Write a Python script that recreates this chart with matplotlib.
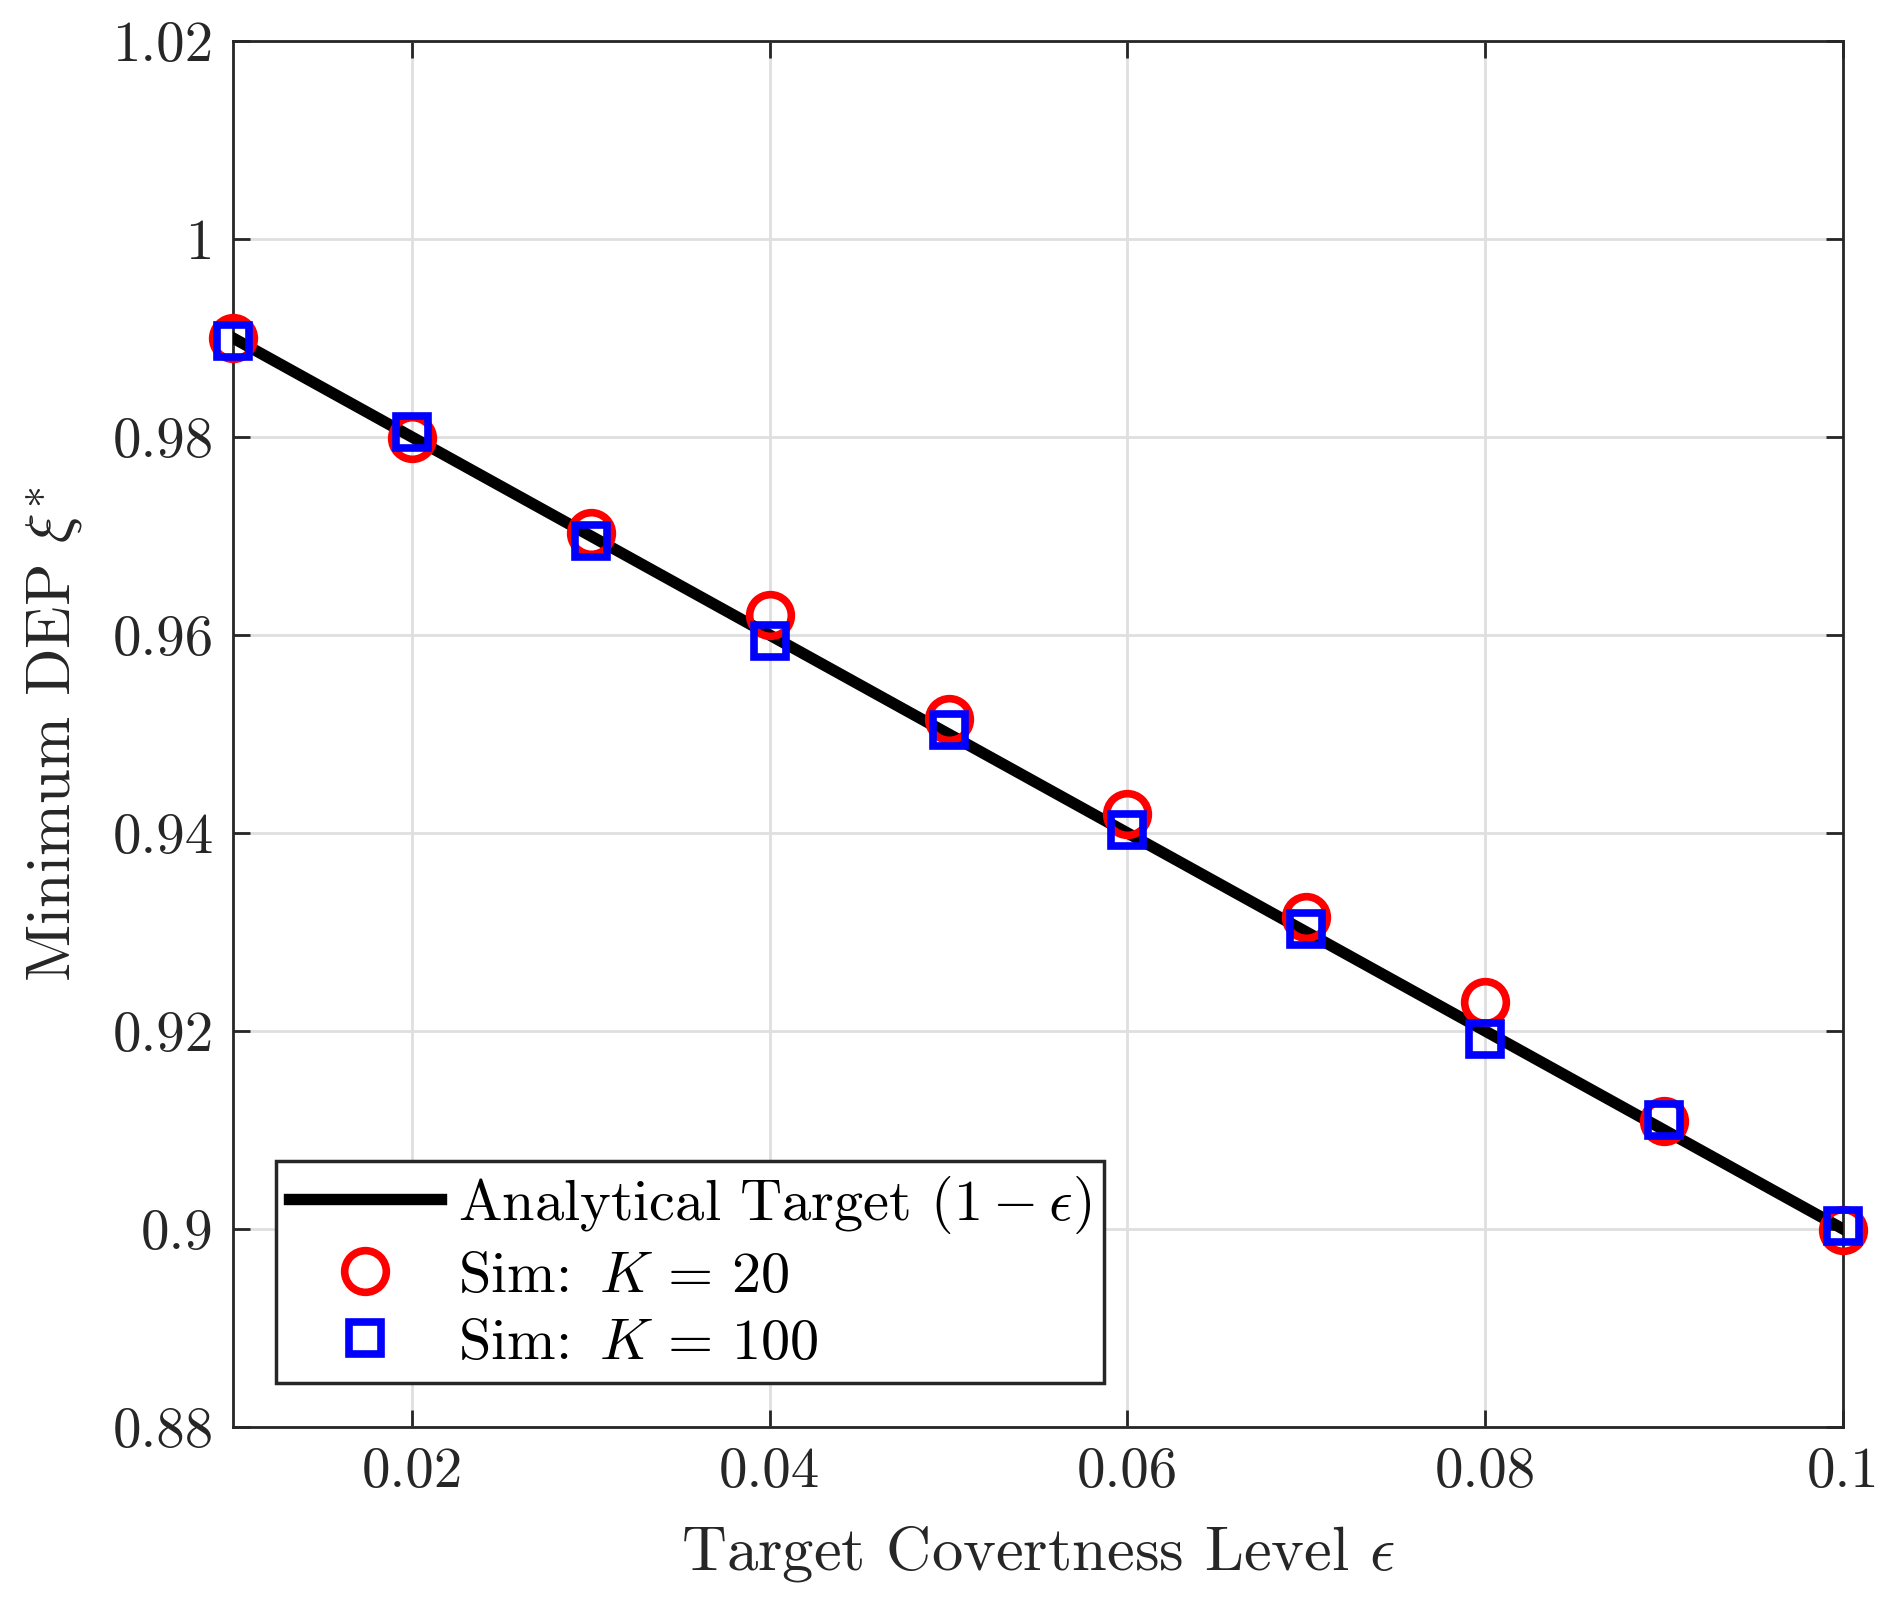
import numpy as np
import matplotlib
matplotlib.use("Agg")
import matplotlib.pyplot as plt

# target covertness level epsilon
eps = [0.01, 0.02, 0.03, 0.04, 0.05, 0.06, 0.07, 0.08, 0.09, 0.10]
# analytical target (1 - eps)
analytical = [0.99, 0.98, 0.97, 0.96, 0.95, 0.94, 0.93, 0.92, 0.91, 0.90]
# simulated minimum DEP
sim_k20 = [0.9900, 0.9799, 0.9703, 0.9620, 0.9515, 0.9419, 0.9315, 0.9229, 0.9109, 0.8999]
sim_k100 = [0.9897, 0.9805, 0.9695, 0.9594, 0.9504, 0.9403, 0.9303, 0.9192, 0.9110, 0.9003]

xticks = [0.02, 0.04, 0.06, 0.08, 0.1]
xtick_labels = ["0.02", "0.04", "0.06", "0.08", "0.1"]
yticks = [0.88, 0.9, 0.92, 0.94, 0.96, 0.98, 1.0, 1.02]
ytick_labels = ["0.88", "0.9", "0.92", "0.94", "0.96", "0.98", "1", "1.02"]

plt.rcParams.update({
    "font.family": "serif",
    "font.serif": ["cmr10", "DejaVu Serif"],
    "mathtext.fontset": "cm",
    "axes.unicode_minus": False,
    "axes.formatter.use_mathtext": True,
})

ink = "#262626"

fig = plt.figure(figsize=(18.96, 15.97), dpi=100)
ax = fig.add_axes([233 / 1896, 1 - 1427 / 1597, (1843 - 233) / 1896, (1427 - 41) / 1597])

ax.plot(eps, analytical, color="black", linewidth=8.2, label=r"Analytical Target $(1-\epsilon)$", zorder=3)
ax.plot(eps, sim_k20, linestyle="none", marker="o", markersize=30, markerfacecolor="none",
        markeredgecolor="#ff0000", markeredgewidth=5.5, label=r"Sim: $\,K\,=\,20$", zorder=4, clip_on=False)
ax.plot(eps, sim_k100, linestyle="none", marker="s", markersize=23, markerfacecolor="none",
        markeredgecolor="#0000ff", markeredgewidth=5.5, label=r"Sim: $\,K\,=\,100$", zorder=5, clip_on=False)

ax.set_xlim(0.01, 0.1)
ax.set_ylim(0.88, 1.02)
ax.set_xticks(xticks)
ax.set_xticklabels(xtick_labels)
ax.set_yticks(yticks)
ax.set_yticklabels(ytick_labels)

ax.grid(True, color="#dfdfdf", linewidth=2.0)
ax.set_axisbelow(True)
ax.tick_params(direction="in", length=12, width=2, colors=ink, labelsize=41,
               top=True, right=True, pad=14)
for sp in ax.spines.values():
    sp.set_color(ink)
    sp.set_linewidth(2)

ax.set_xlabel(r"Target Covertness Level $\epsilon$", fontsize=45, color=ink, labelpad=19)
ax.set_ylabel(r"Minimum DEP $\xi^{*}$", fontsize=45, color=ink, labelpad=20)

leg = ax.legend(loc="lower left", bbox_to_anchor=(0.027, 0.032), borderaxespad=0,
                fontsize=42, fancybox=False, framealpha=1, edgecolor=ink,
                handlelength=2.6, handletextpad=0.3, borderpad=0.22, labelspacing=0.26)
leg.get_frame().set_linewidth(2.5)

fig.savefig("out.png", dpi=100)
